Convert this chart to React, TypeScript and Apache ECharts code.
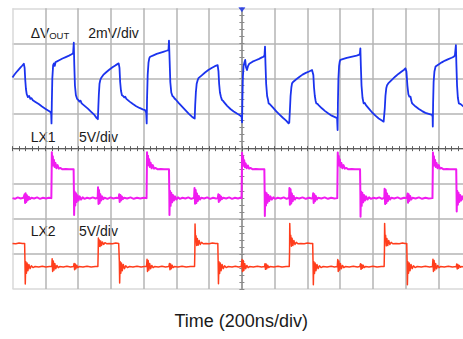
import React, { useEffect, useRef } from "react";
import * as echarts from "echarts";

// Scope screen: 200 ns/div horizontally (trigger at t = 0 in the centre),
// 8 vertical divisions spanning -4 … +4 div around the centre line.
const TIME_MIN = -1400;
const TIME_MAX = 1400;
const TIME_DIV = 200;
const DIV_MIN = -4;
const DIV_MAX = 4;

const TRIGGER_TIME = [0];

// Output ripple ΔVOUT (2 mV/div), [time ns, screen div]
const VOUT_RIPPLE: [number, number][] = [
  [-1400, 2.03], [-1390, 2.10], [-1378, 2.17], [-1365, 2.24], [-1352, 2.31], [-1340, 2.37], [-1331, 2.42],
  [-1326, 2.30], [-1322, 1.95], [-1318, 1.70], [-1313, 1.55], [-1306, 1.47], [-1298, 1.50], [-1291, 1.42], [-1284, 1.44], [-1276, 1.38],
  [-1260, 1.33], [-1240, 1.27], [-1220, 1.20], [-1200, 1.14], [-1183, 1.09], [-1170, 1.05],
  [-1164, 1.00], [-1162, 0.72], [-1160, 1.30], [-1157, 2.00], [-1152, 2.38], [-1147, 2.43], [-1142, 2.36], [-1137, 2.47], [-1131, 2.48],
  [-1115, 2.52], [-1095, 2.57], [-1075, 2.61], [-1055, 2.65], [-1039, 2.69],
  [-1030, 2.72], [-1026, 3.02], [-1023, 2.40], [-1019, 1.80], [-1013, 1.52], [-1006, 1.42], [-999, 1.39], [-991, 1.34], [-985, 1.37], [-978, 1.29],
  [-960, 1.22], [-940, 1.14], [-920, 1.05], [-900, 0.96], [-886, 0.87],
  [-879, 0.84], [-876, 1.20], [-873, 1.55], [-869, 1.85], [-864, 1.96], [-857, 2.03], [-846, 2.10],
  [-830, 2.17], [-810, 2.25], [-790, 2.32], [-770, 2.38], [-752, 2.43],
  [-747, 2.30], [-743, 1.90], [-738, 1.65], [-732, 1.52], [-725, 1.50], [-718, 1.46], [-712, 1.48], [-705, 1.42],
  [-685, 1.34], [-665, 1.27], [-645, 1.21], [-625, 1.16], [-605, 1.12], [-591, 1.10],
  [-584, 1.03], [-581, 0.72], [-579, 1.40], [-575, 2.10], [-570, 2.45], [-565, 2.58], [-560, 2.62],
  [-540, 2.66], [-520, 2.70], [-500, 2.73], [-480, 2.76], [-460, 2.79], [-448, 2.81],
  [-445, 3.08], [-441, 2.50], [-437, 1.90], [-431, 1.60], [-424, 1.50], [-418, 1.48], [-411, 1.43], [-404, 1.40],
  [-385, 1.30], [-365, 1.20], [-345, 1.10], [-325, 1.00], [-305, 0.91], [-292, 0.87],
  [-288, 0.86], [-285, 1.25], [-281, 1.60], [-276, 1.85], [-270, 1.95], [-265, 2.01],
  [-245, 2.09], [-225, 2.17], [-205, 2.24], [-185, 2.30], [-165, 2.35], [-148, 2.38],
  [-143, 2.20], [-139, 1.85], [-134, 1.60], [-128, 1.48], [-122, 1.39], [-115, 1.36], [-108, 1.32],
  [-90, 1.22], [-70, 1.13], [-50, 1.06], [-30, 1.00], [-12, 0.95], [-2, 0.91],
  [1, 0.75], [3, 1.40], [6, 2.05], [10, 2.35], [15, 2.45], [20, 2.53], [25, 2.32], [31, 2.24], [38, 2.36], [45, 2.42],
  [65, 2.48], [85, 2.52], [105, 2.56], [122, 2.60], [132, 2.62],
  [138, 2.66], [141, 2.91], [144, 2.40], [148, 1.85], [154, 1.50], [160, 1.38], [163, 1.29], [170, 1.27],
  [190, 1.17], [210, 1.06], [230, 0.97], [250, 0.88], [270, 0.80], [285, 0.72],
  [289, 0.74], [293, 1.10], [297, 1.50], [302, 1.75], [306, 1.86], [312, 1.90],
  [330, 1.97], [350, 2.04], [370, 2.11], [390, 2.16], [410, 2.20], [428, 2.24],
  [436, 2.10], [440, 1.75], [445, 1.50], [450, 1.36], [454, 1.29], [460, 1.28], [468, 1.24],
  [488, 1.15], [508, 1.07], [528, 1.00], [548, 0.94], [568, 0.90], [581, 0.87],
  [584, 0.53], [586, 1.30], [589, 2.00], [593, 2.35], [597, 2.48], [601, 2.53],
  [620, 2.56], [640, 2.59], [660, 2.61], [680, 2.63], [700, 2.65], [713, 2.67],
  [720, 2.70], [723, 2.86], [726, 2.35], [730, 1.80], [736, 1.45], [743, 1.29], [750, 1.30], [757, 1.24],
  [775, 1.14], [795, 1.03], [815, 0.94], [835, 0.86], [852, 0.81], [865, 0.77],
  [868, 0.76], [872, 1.15], [876, 1.50], [881, 1.72], [886, 1.81], [893, 1.86],
  [915, 1.96], [935, 2.05], [955, 2.13], [975, 2.20], [990, 2.25], [998, 2.29],
  [1004, 2.20], [1010, 1.80], [1016, 1.55], [1022, 1.48], [1029, 1.48], [1035, 1.35], [1039, 1.29],
  [1060, 1.20], [1080, 1.13], [1100, 1.07], [1120, 1.02], [1140, 0.99], [1161, 0.96],
  [1164, 0.90], [1165, 0.63], [1167, 1.30], [1170, 1.90], [1175, 2.20], [1182, 2.34],
  [1200, 2.40], [1220, 2.46], [1240, 2.51], [1260, 2.55], [1280, 2.59], [1293, 2.62],
  [1300, 2.66], [1306, 2.95], [1309, 2.40], [1313, 1.80], [1318, 1.45], [1324, 1.29], [1335, 1.27], [1353, 1.20], [1380, 1.12], [1400, 1.06],
];

// Phase 1 switch node LX1 (5 V/div), [time ns, screen div]
const LX1_WAVE: [number, number][] = [
  [-1400, -1.41], [-1385, -1.43], [-1368, -1.39], [-1350, -1.42], [-1333, -1.40],
  [-1326, -1.30], [-1323, -1.55], [-1320, -1.27], [-1316, -1.52], [-1312, -1.33], [-1307, -1.47], [-1301, -1.37], [-1294, -1.44], [-1285, -1.40],
  [-1268, -1.42], [-1250, -1.39], [-1232, -1.43], [-1214, -1.40], [-1196, -1.42], [-1178, -1.40], [-1163, -1.41],
  [-1161, -0.60], [-1160, -0.10], [-1157, -0.40], [-1154, -0.22], [-1151, -0.48], [-1147, -0.32], [-1143, -0.52], [-1138, -0.41], [-1132, -0.56], [-1125, -0.47], [-1117, -0.57], [-1107, -0.55], [-1095, -0.59], [-1075, -0.58], [-1055, -0.59], [-1040, -0.59], [-1027, -0.59],
  [-1025, -1.30], [-1024, -1.89], [-1021, -1.22], [-1017, -1.62], [-1013, -1.27], [-1008, -1.52], [-1003, -1.33], [-997, -1.48], [-990, -1.36], [-982, -1.45], [-972, -1.39], [-960, -1.43], [-945, -1.40],
  [-928, -1.42], [-910, -1.39], [-893, -1.42], [-880, -1.40],
  [-878, -1.10], [-875, -1.58], [-872, -1.18], [-868, -1.55], [-864, -1.30], [-859, -1.48], [-853, -1.36], [-846, -1.44], [-838, -1.40],
  [-820, -1.43], [-802, -1.39], [-785, -1.42], [-765, -1.40], [-752, -1.41],
  [-749, -1.30], [-746, -1.52], [-742, -1.32], [-738, -1.48], [-733, -1.36], [-727, -1.44], [-719, -1.40],
  [-700, -1.42], [-680, -1.39], [-660, -1.43], [-640, -1.40], [-620, -1.42], [-600, -1.40], [-582, -1.41],
  [-580, -0.60], [-579, -0.10], [-576, -0.38], [-573, -0.20], [-570, -0.47], [-566, -0.30], [-562, -0.52], [-557, -0.40], [-551, -0.56], [-544, -0.47], [-536, -0.57], [-526, -0.55], [-514, -0.59], [-495, -0.58], [-475, -0.59], [-458, -0.59], [-445, -0.59],
  [-443, -1.30], [-442, -1.89], [-439, -1.20], [-435, -1.63], [-431, -1.26], [-426, -1.53], [-421, -1.32], [-415, -1.48], [-408, -1.36], [-400, -1.45], [-390, -1.39], [-378, -1.43], [-363, -1.40],
  [-345, -1.42], [-327, -1.39], [-309, -1.43], [-292, -1.40],
  [-289, -1.12], [-286, -1.57], [-282, -1.18], [-278, -1.55], [-274, -1.28], [-269, -1.49], [-263, -1.35], [-256, -1.45], [-248, -1.40],
  [-230, -1.42], [-212, -1.39], [-194, -1.43], [-176, -1.40], [-158, -1.42], [-147, -1.41],
  [-144, -1.30], [-141, -1.52], [-137, -1.32], [-133, -1.48], [-128, -1.36], [-122, -1.44], [-114, -1.40],
  [-96, -1.42], [-78, -1.39], [-60, -1.43], [-42, -1.40], [-24, -1.42], [-10, -1.40], [-2, -1.41],
  [0, -0.60], [1, -0.12], [4, -0.41], [7, -0.22], [10, -0.49], [14, -0.33], [18, -0.53], [23, -0.42], [29, -0.56], [36, -0.48], [44, -0.57], [54, -0.55], [66, -0.59], [85, -0.58], [105, -0.59], [122, -0.59], [137, -0.59],
  [139, -1.30], [140, -1.92], [143, -1.24], [147, -1.62], [151, -1.27], [156, -1.54], [161, -1.32], [167, -1.49], [174, -1.36], [182, -1.45], [192, -1.39], [204, -1.43], [219, -1.40],
  [237, -1.42], [255, -1.39], [273, -1.43], [288, -1.40],
  [290, -1.12], [293, -1.60], [297, -1.16], [301, -1.56], [305, -1.28], [310, -1.50], [316, -1.35], [323, -1.45], [331, -1.40],
  [350, -1.42], [370, -1.39], [390, -1.43], [410, -1.40], [425, -1.42], [432, -1.41],
  [435, -1.27], [438, -1.55], [442, -1.30], [446, -1.50], [451, -1.35], [457, -1.45], [465, -1.40],
  [485, -1.42], [505, -1.39], [525, -1.43], [545, -1.40], [565, -1.42], [582, -1.41],
  [584, -0.60], [585, -0.11], [588, -0.39], [591, -0.21], [594, -0.48], [598, -0.31], [602, -0.52], [607, -0.41], [613, -0.56], [620, -0.47], [628, -0.57], [638, -0.55], [650, -0.59], [670, -0.58], [690, -0.59], [708, -0.59], [721, -0.59],
  [723, -1.30], [724, -1.94], [727, -1.22], [731, -1.63], [735, -1.26], [740, -1.53], [745, -1.32], [751, -1.48], [758, -1.36], [766, -1.45], [776, -1.39], [788, -1.43], [803, -1.40],
  [820, -1.42], [838, -1.39], [855, -1.43], [869, -1.40],
  [871, -1.14], [874, -1.58], [878, -1.18], [882, -1.55], [886, -1.28], [891, -1.49], [897, -1.35], [904, -1.45], [912, -1.40],
  [930, -1.42], [950, -1.39], [970, -1.43], [990, -1.40], [1006, -1.41],
  [1011, -1.28], [1014, -1.54], [1018, -1.30], [1022, -1.49], [1027, -1.35], [1033, -1.45], [1041, -1.40],
  [1060, -1.42], [1080, -1.39], [1100, -1.43], [1120, -1.40], [1140, -1.42], [1163, -1.41],
  [1165, -0.60], [1166, -0.11], [1169, -0.40], [1172, -0.22], [1175, -0.48], [1179, -0.32], [1183, -0.52], [1188, -0.41], [1194, -0.56], [1201, -0.47], [1209, -0.57], [1219, -0.55], [1231, -0.59], [1250, -0.58], [1270, -0.59], [1290, -0.59], [1308, -0.59],
  [1310, -1.30], [1311, -1.79], [1314, -1.20], [1318, -1.60], [1322, -1.26], [1327, -1.52], [1332, -1.32], [1338, -1.48], [1345, -1.36], [1353, -1.45], [1363, -1.39], [1380, -1.42], [1400, -1.40],
];

// Phase 2 switch node LX2 (5 V/div), [time ns, screen div]
const LX2_WAVE: [number, number][] = [
  [-1400, -2.70], [-1380, -2.71], [-1360, -2.69], [-1340, -2.70], [-1326, -2.70],
  [-1324, -3.20], [-1322, -3.86], [-1319, -3.22], [-1315, -3.55], [-1311, -3.26], [-1306, -3.48], [-1300, -3.30], [-1293, -3.42], [-1285, -3.34], [-1275, -3.39], [-1262, -3.36],
  [-1240, -3.37], [-1218, -3.35], [-1196, -3.37], [-1175, -3.36], [-1160, -3.36],
  [-1158, -3.14], [-1155, -3.50], [-1151, -3.20], [-1147, -3.46], [-1142, -3.27], [-1136, -3.42], [-1129, -3.33], [-1121, -3.39], [-1112, -3.36],
  [-1090, -3.37], [-1068, -3.35], [-1046, -3.37], [-1028, -3.36],
  [-1024, -3.27], [-1021, -3.45], [-1017, -3.29], [-1013, -3.42], [-1008, -3.32], [-1002, -3.39], [-994, -3.36],
  [-970, -3.37], [-945, -3.35], [-920, -3.37], [-895, -3.36], [-879, -3.36],
  [-877, -2.95], [-876, -2.55], [-873, -2.78], [-870, -2.60], [-866, -2.79], [-862, -2.63], [-857, -2.76], [-851, -2.66], [-844, -2.73], [-836, -2.68], [-826, -2.71], [-810, -2.70],
  [-790, -2.71], [-770, -2.69], [-752, -2.70],
  [-748, -3.20], [-746, -3.83], [-743, -3.22], [-739, -3.55], [-735, -3.26], [-730, -3.48], [-724, -3.30], [-717, -3.42], [-709, -3.34], [-699, -3.39], [-686, -3.36],
  [-665, -3.37], [-640, -3.35], [-615, -3.37], [-595, -3.36], [-582, -3.36],
  [-579, -3.15], [-576, -3.50], [-572, -3.19], [-568, -3.46], [-563, -3.27], [-557, -3.42], [-550, -3.33], [-542, -3.39], [-533, -3.36],
  [-510, -3.37], [-488, -3.35], [-466, -3.37], [-446, -3.36],
  [-442, -3.27], [-439, -3.45], [-435, -3.29], [-431, -3.42], [-426, -3.32], [-420, -3.39], [-412, -3.36],
  [-390, -3.37], [-365, -3.35], [-340, -3.37], [-315, -3.36], [-289, -3.36],
  [-287, -2.90], [-286, -2.15], [-283, -2.62], [-280, -2.48], [-276, -2.76], [-272, -2.56], [-267, -2.75], [-261, -2.62], [-254, -2.73], [-246, -2.67], [-236, -2.71], [-220, -2.70],
  [-200, -2.71], [-180, -2.69], [-160, -2.70], [-147, -2.70],
  [-145, -3.20], [-143, -3.85], [-140, -3.22], [-136, -3.56], [-132, -3.26], [-127, -3.48], [-121, -3.30], [-114, -3.42], [-106, -3.34], [-96, -3.39], [-83, -3.36],
  [-60, -3.37], [-40, -3.35], [-20, -3.37], [-4, -3.36],
  [1, -3.16], [4, -3.50], [8, -3.19], [12, -3.47], [17, -3.27], [23, -3.42], [30, -3.33], [38, -3.39], [47, -3.36],
  [70, -3.37], [95, -3.35], [120, -3.37], [138, -3.36],
  [141, -3.28], [144, -3.44], [148, -3.29], [152, -3.42], [157, -3.32], [163, -3.39], [171, -3.36],
  [195, -3.37], [220, -3.35], [245, -3.37], [270, -3.36], [289, -3.36],
  [291, -2.90], [292, -2.13], [295, -2.60], [298, -2.47], [302, -2.78], [306, -2.55], [311, -2.76], [317, -2.62], [324, -2.73], [332, -2.67], [342, -2.71], [360, -2.70],
  [380, -2.71], [400, -2.69], [420, -2.70], [432, -2.70],
  [434, -3.20], [436, -3.88], [439, -3.22], [443, -3.56], [447, -3.26], [452, -3.48], [458, -3.30], [465, -3.42], [473, -3.34], [483, -3.39], [496, -3.36],
  [520, -3.37], [545, -3.35], [565, -3.37], [582, -3.36],
  [585, -3.16], [588, -3.50], [592, -3.20], [596, -3.46], [601, -3.27], [607, -3.42], [614, -3.33], [622, -3.39], [631, -3.36],
  [655, -3.37], [680, -3.35], [705, -3.37], [720, -3.36],
  [724, -3.28], [727, -3.44], [731, -3.30], [735, -3.41], [740, -3.32], [746, -3.39], [754, -3.36],
  [775, -3.37], [800, -3.35], [825, -3.37], [850, -3.36], [868, -3.36],
  [870, -2.90], [871, -2.13], [874, -2.61], [877, -2.47], [881, -2.77], [885, -2.56], [890, -2.76], [896, -2.62], [903, -2.73], [911, -2.67], [921, -2.71], [940, -2.70],
  [960, -2.71], [980, -2.69], [995, -2.70], [1006, -2.70],
  [1008, -3.20], [1010, -3.88], [1013, -3.22], [1017, -3.55], [1021, -3.26], [1026, -3.48], [1032, -3.30], [1039, -3.42], [1047, -3.34], [1057, -3.39], [1070, -3.36],
  [1095, -3.37], [1120, -3.35], [1145, -3.37], [1163, -3.36],
  [1166, -3.15], [1169, -3.50], [1173, -3.19], [1177, -3.46], [1182, -3.27], [1188, -3.42], [1195, -3.33], [1203, -3.39], [1212, -3.36],
  [1235, -3.37], [1260, -3.35], [1285, -3.37], [1308, -3.36],
  [1311, -3.29], [1314, -3.43], [1318, -3.30], [1322, -3.41], [1327, -3.33], [1333, -3.38], [1341, -3.36],
  [1370, -3.37], [1400, -3.36],
];

const FONT = '"Liberation Sans", Arial, Helvetica, sans-serif';
const TEXT_COLOR = "#1a1a1a";
const FRAME_COLOR = "#d9d9d9";
const GRID_COLOR = "#b4b4b4";
const CENTER_H_COLOR = "#5e5e5e";
const CENTER_V_COLOR = "#9c9c9c";
const BLUE = "#1b33ee";
const MAGENTA = "#f01cf0";
const RED = "#ff3d1c";

function label(text: string, x: number, y: number, size: number, align = "left") {
  return {
    type: "text",
    x,
    y,
    silent: true,
    style: {
      text,
      fill: TEXT_COLOR,
      font: `${size}px ${FONT}`,
      align,
      verticalAlign: "middle",
      textAlign: align,
      textVerticalAlign: "middle",
    },
  };
}

export default function App() {
  const ref = useRef<HTMLDivElement>(null);

  useEffect(() => {
    if (!ref.current) return;
    const chart = echarts.init(ref.current, undefined, { renderer: "svg" });

    const xLines = (TIME_MAX - TIME_MIN) / TIME_DIV + 1;
    const yLines = DIV_MAX - DIV_MIN + 1;
    const xSplitColors = Array.from({ length: xLines }, (_, i) => (i === 0 ? FRAME_COLOR : GRID_COLOR));
    const ySplitColors = Array.from({ length: yLines }, (_, i) =>
      i === 0 || i === yLines - 1 ? FRAME_COLOR : GRID_COLOR
    );

    const timeAxis = (position: "bottom" | "top", withGrid: boolean) => ({
      type: "value",
      position,
      min: TIME_MIN,
      max: TIME_MAX,
      interval: TIME_DIV,
      axisLine: { show: true, onZero: true, onZeroAxisIndex: 0, lineStyle: { color: CENTER_H_COLOR, width: 1.2 } },
      axisTick: { show: true, length: 2.5, lineStyle: { color: CENTER_H_COLOR, width: 1 } },
      minorTick: { show: true, splitNumber: 5, length: 2.5, lineStyle: { color: CENTER_H_COLOR, width: 1 } },
      axisLabel: { show: false },
      splitLine: { show: withGrid, lineStyle: { color: xSplitColors, width: 1.5 } },
    });

    const divAxis = (position: "left" | "right", withGrid: boolean) => ({
      type: "value",
      position,
      min: DIV_MIN,
      max: DIV_MAX,
      interval: 1,
      axisLine: { show: true, onZero: true, onZeroAxisIndex: 0, lineStyle: { color: CENTER_V_COLOR, width: 1.5 } },
      axisTick: { show: true, length: 2.5, lineStyle: { color: "#8a8a8a", width: 1 } },
      minorTick: { show: true, splitNumber: 5, length: 2.5, lineStyle: { color: "#8a8a8a", width: 1 } },
      axisLabel: { show: false },
      splitLine: { show: withGrid, lineStyle: { color: ySplitColors, width: 1.5 } },
    });

    const trace = (name: string, data: [number, number][], color: string, width: number) => ({
      name,
      type: "line",
      data,
      xAxisIndex: 0,
      yAxisIndex: 0,
      showSymbol: false,
      symbol: "none",
      silent: true,
      clip: true,
      lineStyle: { color, width, join: "round" },
      z: 3,
    });

    chart.setOption({
      animation: false,
      backgroundColor: "#ffffff",
      grid: {
        left: 12.5,
        right: -8.3,
        top: 8.3,
        bottom: 50,
        containLabel: false,
        outerBoundsMode: "none",
      },
      xAxis: [timeAxis("bottom", true), timeAxis("top", false)],
      yAxis: [divAxis("left", true), divAxis("right", false)],
      series: [
        trace("ΔVOUT", VOUT_RIPPLE, BLUE, 1.8),
        trace("LX1", LX1_WAVE, MAGENTA, 2),
        trace("LX2", LX2_WAVE, RED, 1.5),
        {
          name: "trigger",
          type: "scatter",
          data: TRIGGER_TIME.map((t) => [t, DIV_MAX]),
          symbol: "triangle",
          symbolRotate: 180,
          symbolSize: [7, 5],
          symbolOffset: [0, 1.5],
          itemStyle: { color: BLUE },
          clip: false,
          silent: true,
          z: 5,
        },
      ],
      graphic: [
        label("ΔV", 30.7, 33.4, 14),
        label("OUT", 49.2, 35.0, 9.5),
        label("2mV/div", 88.3, 33.4, 14),
        label("LX1", 30.7, 136.9, 14),
        label("5V/div", 79, 136.9, 14),
        label("LX2", 30.7, 231.2, 14),
        label("5V/div", 79, 231.2, 14),
        label("Time (200ns/div)", 241.2, 321.1, 18, "center"),
      ],
    });

    return () => chart.dispose();
  }, []);

  return (
    <div
      ref={ref}
      style={{ position: "absolute", left: 0, top: 0, width: 463, height: 339, background: "#fff" }}
    />
  );
}
